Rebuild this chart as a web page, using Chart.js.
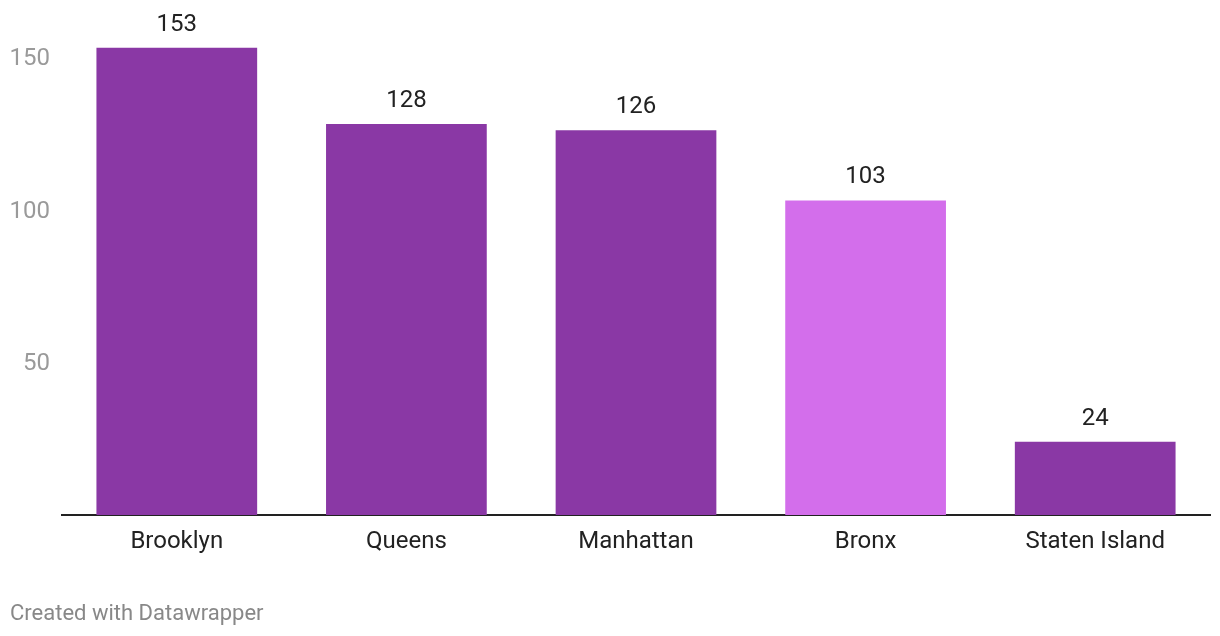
<!DOCTYPE html>
<html>
<head>
<meta charset="utf-8">
<script src="https://cdn.jsdelivr.net/npm/chart.js@4/dist/chart.umd.min.js"></script>
<style>
  html, body { margin:0; padding:0; background:#fff; }
  #wrap { position:relative; width:1220px; height:636px; }
  #footer { position:absolute; left:10px; top:600px; font-family:Roboto, sans-serif; font-size:22px; color:#888; }
</style>
</head>
<body>
<div id="wrap">
  <canvas id="chart" width="1220" height="636"></canvas>
  <div id="footer">Created with Datawrapper</div>
</div>
<script>
const boroughs = ['Brooklyn', 'Queens', 'Manhattan', 'Bronx', 'Staten Island'];
const counts = [153, 128, 126, 103, 24];
const barColors = ['#8a38a5', '#8a38a5', '#8a38a5', '#d36eeb', '#8a38a5'];
const yTicks = [50, 100, 150];

// value labels above each bar
const valueLabels = {
    id: 'valueLabels',
    afterDatasetsDraw(chart){
        const ctx = chart.ctx;
        const meta = chart.getDatasetMeta(0);
        ctx.save();
        ctx.font = '24px Roboto, sans-serif';
        ctx.fillStyle = '#222';
        ctx.textAlign = 'center';
        ctx.textBaseline = 'middle';
        meta.data.forEach((bar, i) => {
            ctx.fillText(counts[i], bar.x, bar.y - 23);
        });
        ctx.restore();
    }
};

new Chart(document.getElementById('chart'), {
    type: 'bar',
    data: {
        labels: boroughs,
        datasets: [{ data: counts, backgroundColor: barColors, categoryPercentage: 0.7, barPercentage: 1 }]
    },
    options: {
        responsive: false,
        animation: false,
        layout: { padding: { top: 0, right: 10, left: 0, bottom: 0 } },
        plugins: { legend: { display: false }, tooltip: { enabled: false } },
        scales: {
            x: {
                grid: { display: false, drawTicks: false },
                border: { display: true, color: '#222', width: 2 },
                ticks: { font: { family: 'Roboto', size: 24 }, color: '#222', padding: 13 },
                afterFit(scale){ scale.height = 121; }
            },
            y: {
                min: 0,
                max: 160,
                grid: { display: false, drawTicks: false },
                border: { display: false },
                afterBuildTicks(scale){ scale.ticks = yTicks.map(v => ({ value: v })); },
                ticks: { font: { family: 'Roboto', size: 24 }, color: '#9a9a9a', padding: 12, labelOffset: 2 },
                afterFit(scale){ scale.width = 62; }
            }
        }
    },
    plugins: [valueLabels]
});
</script>
</body>
</html>
